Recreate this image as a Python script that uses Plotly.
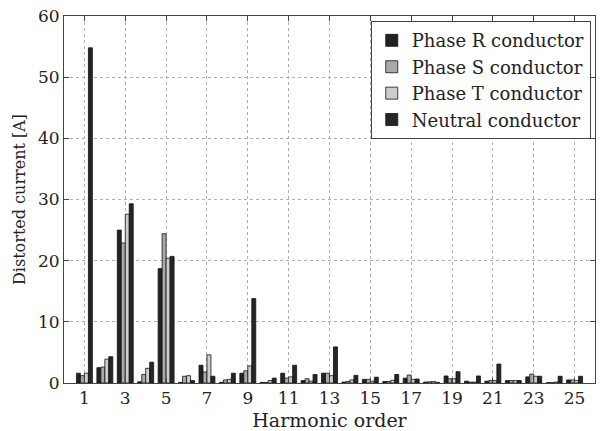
import plotly.graph_objects as go

harmonics = list(range(1, 26))
phase_r = [1.6, 2.5, 25.0, 0.2, 18.7, 0.1, 2.9, 0.1, 1.6, 0.1, 1.6, 0.4, 1.6, 0.15, 0.6, 0.25, 0.8, 0.15, 1.15, 0.3, 0.3, 0.4, 1.0, 0.05, 0.5]
phase_s = [1.2, 2.6, 22.9, 1.4, 24.4, 1.1, 1.8, 0.5, 2.0, 0.1, 0.8, 0.7, 1.6, 0.25, 0.6, 0.25, 1.3, 0.2, 0.7, 0.15, 0.4, 0.4, 1.45, 0.05, 0.5]
phase_t = [1.6, 3.9, 27.6, 2.4, 20.4, 1.2, 4.6, 0.6, 2.8, 0.4, 1.0, 0.3, 1.2, 0.5, 0.3, 0.45, 0.6, 0.25, 0.7, 0.15, 0.4, 0.4, 1.1, 0.15, 0.4]
neutral = [54.8, 4.3, 29.3, 3.4, 20.7, 0.4, 1.1, 1.6, 13.8, 0.8, 2.9, 1.4, 5.9, 1.25, 0.95, 1.4, 0.65, 0.1, 1.85, 1.15, 3.1, 0.4, 1.1, 1.1, 1.1]

series_names = ["Phase R conductor", "Phase S conductor", "Phase T conductor", "Neutral conductor"]
series_colors = ["#222222", "#a9a9a9", "#cdcdcd", "#262626"]
x_ticks = list(range(1, 26, 2))
y_ticks = list(range(0, 61, 10))

FONT = "DejaVu Serif"

fig = go.Figure()
for name, vals, col in zip(series_names, [phase_r, phase_s, phase_t, neutral], series_colors):
    fig.add_trace(go.Bar(
        x=harmonics, y=vals, name=name,
        marker=dict(color=col, line=dict(color="#111111", width=0.8)),
    ))

axis_common = dict(
    showline=True, linecolor="#444444", linewidth=1, mirror="ticks",
    ticks="inside", ticklen=5, tickcolor="#444444",
    showgrid=True, gridcolor="#b0b0b0", griddash="dot", gridwidth=1,
    zeroline=False, tickfont=dict(family=FONT, size=17, color="#222222"),
)

fig.update_layout(
    width=602, height=431,
    margin=dict(l=64, r=7, t=16, b=48),
    paper_bgcolor="white", plot_bgcolor="white",
    barmode="group", bargap=0.22, bargroupgap=0,
    font=dict(family=FONT, color="#222222"),
    xaxis=dict(range=[0, 26], tickvals=x_ticks, ticktext=[str(v) for v in x_ticks],
               title=dict(text="Harmonic order", font=dict(family=FONT, size=19)),
               automargin=False, **axis_common),
    yaxis=dict(range=[0, 60], tickvals=y_ticks, ticktext=[str(v) for v in y_ticks],
               title=dict(text="Distorted current [A]", font=dict(family=FONT, size=16), standoff=8),
               automargin=True, **axis_common),
    legend=dict(x=0.992, xanchor="right", y=0.986, yanchor="top",
                bgcolor="white", bordercolor="#444444", borderwidth=1,
                font=dict(family=FONT, size=18, color="#222222"),
                tracegroupgap=0, itemwidth=30),
)

fig.write_html("out.html")
